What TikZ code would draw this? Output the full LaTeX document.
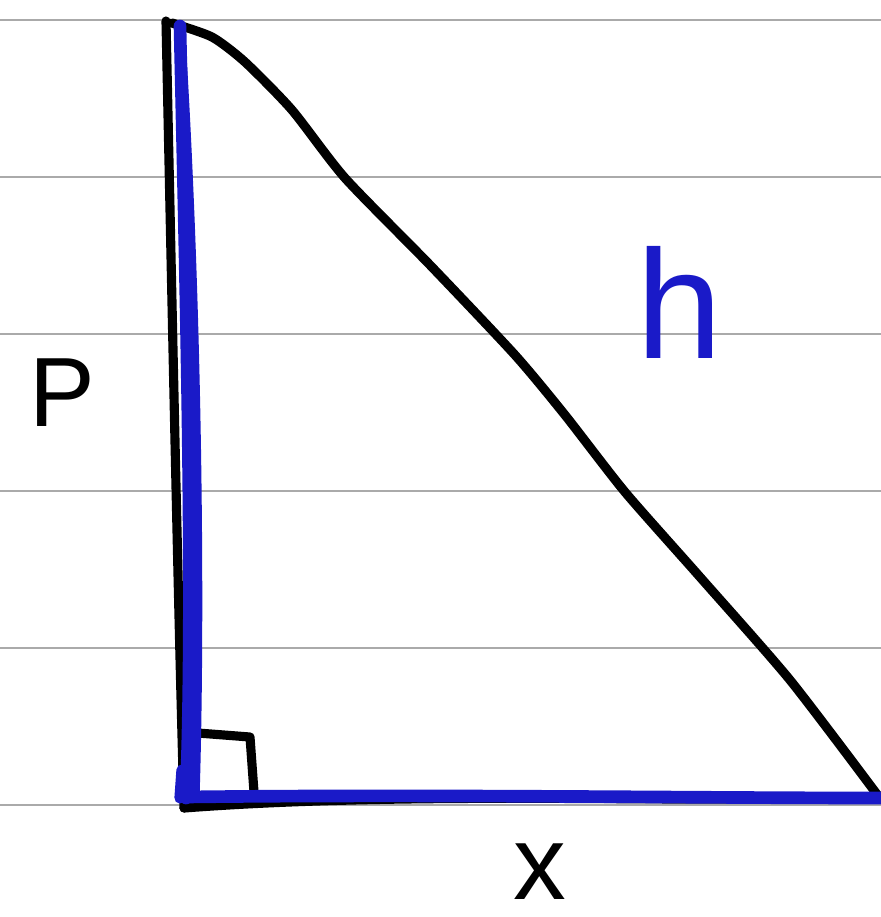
\documentclass[tikz,border=0pt]{standalone}
\usepackage{fontspec}
\setmainfont{Liberation Sans}
\definecolor{penblue}{RGB}{26,26,200}
\definecolor{ruled}{RGB}{170,170,170}
\begin{document}
\begin{tikzpicture}[x=0.01cm, y=-0.01cm, line cap=round, line join=round,
    ink/.style={black, line width=2.6pt},
    bluepen/.style={penblue, line width=3.2pt},
    every node/.style={inner sep=1pt}]
        \useasboundingbox (0,0) rectangle (881,917);

        % Ruled lines of the page
        \foreach \yy in {20,177,334,491,648,805}
            \draw[ruled, line width=0.6pt] (0,\yy) -- (881,\yy);

        % Triangle corners
        \coordinate (top) at (166,21);
        \coordinate (corner) at (184,808);
        \coordinate (right) at (879,797);

        % Black triangle
        \draw[ink] (top) .. controls (172,300) and (178,600) .. (corner);
        \draw[ink] (corner) .. controls (420,790) and (700,804) .. (right);
        \draw[ink] plot[smooth, tension=0.4] coordinates {(172,23) (212,37) (245,62)
            (292,110) (345,178) (430,265) (515,355) (565,415) (625,492)
            (700,577) (790,680) (879,797)};

        % Right angle mark
        \draw[ink] (198,733) -- (250,737) -- (254,792);

        % Blue highlights
        \draw[bluepen, line width=3.6pt] (180,26) .. controls (186,300) and (194,600) .. (186,798);
        \draw[bluepen] (180,40) .. controls (196,300) and (200,600) .. (194,795);
        \draw[bluepen] (182,770) -- (180,798);
        \draw[bluepen, line width=3.6pt] (186,797) .. controls (420,794) and (700,798) .. (881,798);

        % Side labels
        \node[font=\fontsize{28}{30}\selectfont] (labelP) at (62,393) {P};
        \node[penblue, font=\fontsize{44}{46}\selectfont] (labelH) at (680,302) {h};
        \node[font=\fontsize{30}{32}\selectfont] (labelX) at (540,872) {x};
\end{tikzpicture}
\end{document}
